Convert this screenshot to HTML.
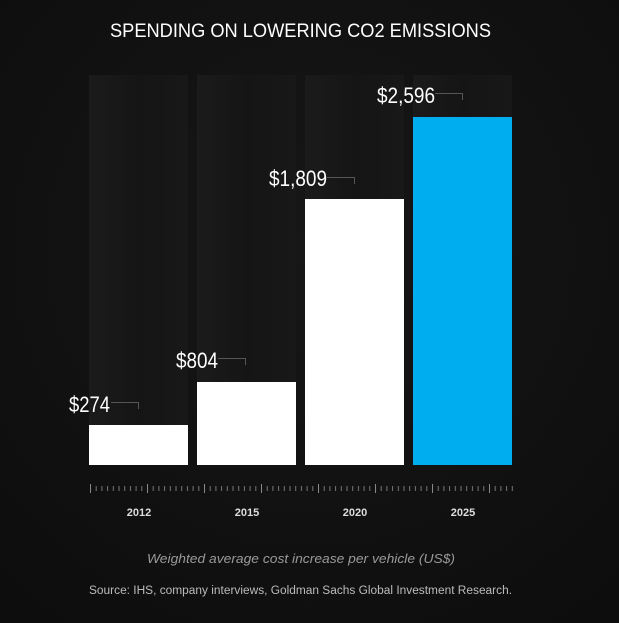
<!DOCTYPE html>
<html><head><style>
html,body{margin:0;padding:0;background:#111;}
svg{display:block}
</style></head><body>
<svg width="619" height="623" xmlns="http://www.w3.org/2000/svg">
<defs>
<radialGradient id="bg" cx="0.5" cy="0.4" r="0.75">
<stop offset="0" stop-color="#171717"/><stop offset="1" stop-color="#0d0d0d"/>
</radialGradient>
<linearGradient id="col" x1="0" x2="1" y1="0" y2="0">
<stop offset="0" stop-color="#1b1b1b"/><stop offset="0.5" stop-color="#151515"/><stop offset="1" stop-color="#181818"/>
</linearGradient>
<pattern id="minor" x="90" y="0" width="5.7" height="623" patternUnits="userSpaceOnUse">
<rect x="0" y="486" width="1" height="5" fill="#777"/>
</pattern>
<pattern id="major" x="90" y="0" width="57" height="623" patternUnits="userSpaceOnUse">
<rect x="0" y="484" width="1" height="9" fill="#888"/>
</pattern>
</defs>
<rect width="619" height="623" fill="url(#bg)"/>
<text x="110" y="37" fill="#fff" font-family="Liberation Sans, sans-serif" font-size="19" textLength="381" lengthAdjust="spacingAndGlyphs">SPENDING ON LOWERING CO2 EMISSIONS</text>
<g fill="url(#col)">
<rect x="89" y="75" width="99" height="390"/>
<rect x="197" y="75" width="99" height="390"/>
<rect x="305" y="75" width="99" height="390"/>
<rect x="413" y="75" width="99" height="390"/>
</g>
<rect x="89" y="425" width="99" height="40" fill="#fff"/>
<rect x="197" y="382" width="99" height="83" fill="#fff"/>
<rect x="305" y="199" width="99" height="266" fill="#fff"/>
<rect x="413" y="117" width="99" height="348" fill="#00adef"/>
<g fill="none" stroke="#555" stroke-width="1">
<polyline points="111,402.5 138.5,402.5 138.5,409"/>
<polyline points="218,358.5 245.5,358.5 245.5,365"/>
<polyline points="327,177.5 354.5,177.5 354.5,184"/>
<polyline points="435,93.5 462.5,93.5 462.5,100"/>
</g>
<g fill="#fff" font-family="Liberation Sans, sans-serif" font-size="22">
<text x="69" y="412" textLength="41" lengthAdjust="spacingAndGlyphs">$274</text>
<text x="176" y="368" textLength="42" lengthAdjust="spacingAndGlyphs">$804</text>
<text x="269" y="186" textLength="58" lengthAdjust="spacingAndGlyphs">$1,809</text>
<text x="377" y="103" textLength="58" lengthAdjust="spacingAndGlyphs">$2,596</text>
</g>
<rect x="89" y="480" width="426" height="16" fill="url(#minor)"/>
<rect x="89" y="480" width="426" height="16" fill="url(#major)"/>
<g fill="#ddd" font-family="Liberation Sans, sans-serif" font-size="11" font-weight="bold" text-anchor="middle">
<text x="139" y="516">2012</text>
<text x="247" y="516">2015</text>
<text x="355" y="516">2020</text>
<text x="463" y="516">2025</text>
</g>
<text x="147" y="563" fill="#9a9a9a" font-family="Liberation Sans, sans-serif" font-size="13" font-style="italic" textLength="308" lengthAdjust="spacingAndGlyphs">Weighted average cost increase per vehicle (US$)</text>
<text x="89" y="594" fill="#bbb" font-family="Liberation Sans, sans-serif" font-size="11.5" textLength="423" lengthAdjust="spacingAndGlyphs">Source: IHS, company interviews, Goldman Sachs Global Investment Research.</text>
</svg>
</body></html>
